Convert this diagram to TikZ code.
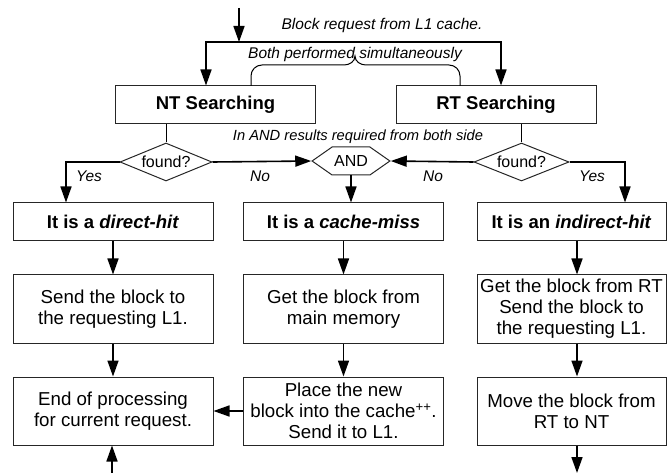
\documentclass[tikz,border=0pt]{standalone}
\usepackage{fontspec}
\setmainfont{Liberation Sans}
\usetikzlibrary{arrows.meta,shapes.geometric,shapes.symbols}

\begin{document}
\begin{tikzpicture}[
  x=1pt, y=-1pt,
  box/.style={draw=black!85,line width=1pt,minimum width=200pt,minimum height=68pt,inner sep=0pt,align=center,font=\fontsize{18.7}{21}\selectfont},
  hbox/.style={box,minimum height=38pt,font=\fontsize{18.5}{21}\selectfont\bfseries},
  query/.style={draw=black!85,line width=1pt,diamond,aspect=2.4,minimum width=92pt,minimum height=38pt,inner sep=0pt,font=\fontsize{16}{18}\selectfont},
  andgate/.style={draw=black!85,line width=1pt,signal,signal to=west and east,signal pointer angle=70,minimum width=57pt,minimum height=28pt,inner sep=2pt,font=\fontsize{16}{18}\selectfont},
  note/.style={font=\fontsize{15.5}{17}\selectfont\itshape},
  flow/.style={-{Triangle[length=16pt,width=11pt]},line width=1.6pt},
  link/.style={line width=1pt}
]
  \useasboundingbox (0,0) rectangle (667,473);
  \clip (0,0) rectangle (667,473);

  % searching
  \node[hbox] (ntsearch) at (215.5,105) {NT Searching};
  \node[hbox] (rtsearch) at (496,105) {RT Searching};

  % decisions
  \node[query] (ntfound) at (166,162) {found?};
  \node[query,minimum width=95pt] (rtfound) at (521.5,162) {found?};
  \node[andgate] (both) at (351,161) {AND};

  % outcomes
  \node[hbox] (dhit) at (113,222) {It is a \textit{direct-hit}};
  \node[hbox] (cmiss) at (343.5,222) {It is a \textit{cache-miss}};
  \node[hbox,minimum width=189pt] (ihit) at (571.5,222) {It is an \textit{indirect-hit}};

  % actions
  \node[box] (dsend) at (113,309) {Send the block to\\the requesting L1.};
  \node[box] (mget) at (343.5,309) {Get the block from\\main memory};
  \node[box,minimum width=189pt] (isend) at (571.5,309) {Get the block from RT\\Send the block to\\the requesting L1.};
  \node[box] (done) at (113,411) {End of processing\\for current request.};
  \node[box] (place) at (343.5,411) {Place the new\\block into the cache\textsuperscript{++}.\\Send it to L1.};
  \node[box,minimum width=189pt] (move) at (571.5,411) {Move the block from\\RT to NT};

  % notes
  \node[note] (req) at (382,25) {Block request from L1 cache.};
  \node[note] (simul) at (355,54) {Both performed simultaneously};
  \node[note,font=\fontsize{14.7}{17}\selectfont\itshape] (andnote) at (358,137) {In AND results required from both side};
  \node[note] (nyes) at (89,176) {Yes};
  \node[note] (nno) at (260,176) {No};
  \node[note] (rno) at (433,176) {No};
  \node[note] (ryes) at (592,176) {Yes};

  % free ends
  \coordinate (start) at (239,8);
  \coordinate (split) at (239,42);
  \coordinate (ntin) at (206,42);
  \coordinate (rtin) at (501,42);
  \coordinate (lcol) at (66,0);
  \coordinate (ycol) at (625,0);
  \coordinate (rcol) at (577,0);
  \coordinate (back) at (112,473);
  \coordinate (out) at (577,473);

  % request edges
  \draw[flow] (start) -- (split);
  \draw[flow] (split) -| (ntin |- ntsearch.north);
  \draw[flow] (split) -| (rtin |- rtsearch.north);
  \draw[link] (251,86) -- (251,76) to[out=90,in=180] (262,65) -- (344,65)
    to[out=0,in=-90] (355,56) to[out=-90,in=180] (366,65) -- (449,65)
    to[out=0,in=90] (460,76) -- (460,86);

  % decision edges
  \draw[link] (ntsearch.south -| ntfound.north) -- (ntfound.north);
  \draw[link] (rtsearch.south -| rtfound.north) -- (rtfound.north);
  \draw[flow] (ntfound.east) -- (both.west);
  \draw[flow] (rtfound.west) -- (both.east);
  \draw[flow] (both.south) -- (both.south |- cmiss.north);
  \draw[flow] (ntfound.west) -| (lcol |- dhit.north);
  \draw[flow] (rtfound.east) -| (ycol |- ihit.north);

  % column edges
  \draw[flow] (dhit) -- (dsend);
  \draw[flow] (dsend) -- (done);
  \draw[flow] (cmiss) -- (mget);
  \draw[flow] (mget) -- (place);
  \draw[flow] (ihit.south -| rcol) -- (isend.north -| rcol);
  \draw[flow] (isend.south -| rcol) -- (move.north -| rcol);
  \draw[flow] (place) -- (done);
  \draw[flow] (back) -- (back |- done.south);
  \draw[flow] (move.south -| out) -- (out);

\end{tikzpicture}
\end{document}
